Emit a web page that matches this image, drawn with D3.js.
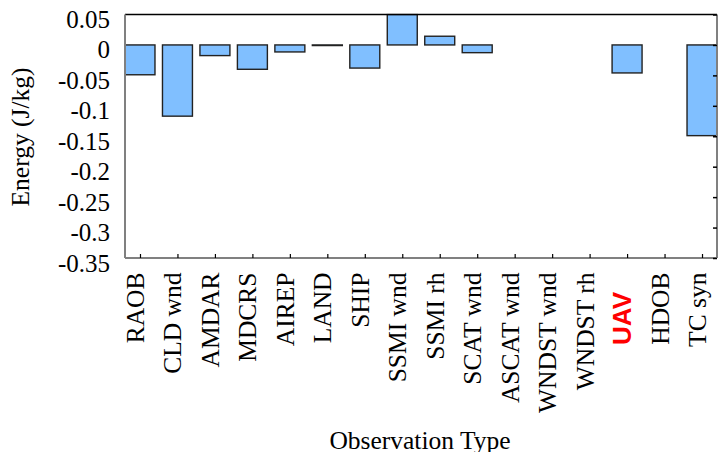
<!DOCTYPE html>
<html>
<head>
<meta charset="utf-8">
<script src="https://cdn.jsdelivr.net/npm/d3@7"></script>
<style>
  body { margin: 0; background: #fff; }
  text { font-family: "Liberation Serif", serif; fill: #000; }
</style>
</head>
<body>
<script>
var categories = ['RAOB', 'CLD wnd', 'AMDAR', 'MDCRS', 'AIREP', 'LAND', 'SHIP', 'SSMI wnd',
  'SSMI rh', 'SCAT wnd', 'ASCAT wnd', 'WNDST wnd', 'WNDST rh', 'UAV', 'HDOB', 'TC syn'];
var values = [-0.049, -0.117, -0.0175, -0.040, -0.0115, -0.001, -0.038, 0.05,
  0.0143, -0.0127, 0, 0, 0, -0.046, 0, -0.149];
var yTicks = [0.05, 0, -0.05, -0.1, -0.15, -0.2, -0.25, -0.3, -0.35];
var highlight = 'UAV';

var width = 720, height = 452;
var plotLeft = 125, plotRight = 717, plotTop = 14.5, plotBottom = 258;

var svg = d3.select('body')
  .append('svg')
  .attr('width', width)
  .attr('height', height);

var x = d3.scaleLinear()
  .domain([-0.4, categories.length - 0.6])
  .range([plotLeft, plotRight]);

var y = d3.scaleLinear()
  .domain([-0.35, 0.05])
  .range([plotBottom, plotTop]);

svg.append('clipPath')
  .attr('id', 'plot')
  .append('rect')
  .attr('x', plotLeft)
  .attr('y', plotTop - 1)
  .attr('width', plotRight - plotLeft)
  .attr('height', plotBottom - plotTop + 1);

var bars = values.map(function(v, i) { return { i: i, v: v }; })
  .filter(function(d) { return d.v !== 0; });

// bars
svg.append('g')
  .attr('clip-path', 'url(#plot)')
  .selectAll('rect')
  .data(bars)
  .enter()
  .append('rect')
  .attr('x', function(d) { return x(d.i - 0.4); })
  .attr('y', function(d) { return y(Math.max(d.v, 0)); })
  .attr('width', x(0.4) - x(-0.4))
  .attr('height', function(d) { return Math.abs(y(d.v) - y(0)); })
  .attr('fill', '#80bfff')
  .attr('stroke', '#222')
  .attr('stroke-width', 1.4);

// frame
svg.append('line').attr('x1', plotLeft).attr('x2', plotRight).attr('y1', plotTop).attr('y2', plotTop)
  .attr('stroke', '#000').attr('stroke-width', 1.5);
svg.append('line').attr('x1', plotLeft).attr('x2', plotLeft).attr('y1', plotTop).attr('y2', plotBottom)
  .attr('stroke', '#808080').attr('stroke-width', 2);
svg.append('line').attr('x1', plotRight).attr('x2', plotRight).attr('y1', plotTop).attr('y2', plotBottom)
  .attr('stroke', '#808080').attr('stroke-width', 2);
svg.append('line').attr('x1', plotLeft).attr('x2', plotRight).attr('y1', plotBottom).attr('y2', plotBottom)
  .attr('stroke', '#808080').attr('stroke-width', 2);

// y axis labels
var yAxis = d3.axisLeft(y)
  .tickValues(yTicks)
  .tickSize(0)
  .tickPadding(15)
  .tickFormat(function(d) { return String(+d.toFixed(2)); });

var gy = svg.append('g')
  .attr('transform', 'translate(' + plotLeft + ',0)')
  .call(yAxis);
gy.select('.domain').remove();
gy.selectAll('text')
  .attr('dy', '0.52em')
  .style('font-family', '"Liberation Serif", serif')
  .style('font-size', '25px');

// mirror ticks on the right
var yRight = d3.axisLeft(y)
  .tickValues(yTicks)
  .tickSize(4)
  .tickFormat('');
var gr = svg.append('g')
  .attr('transform', 'translate(' + plotRight + ',0)')
  .call(yRight);
gr.select('.domain').remove();
gr.selectAll('line').attr('stroke', '#000').attr('stroke-width', 1.5);

// x axis
var xAxis = d3.axisTop(x)
  .tickValues(d3.range(categories.length))
  .tickSize(4)
  .tickFormat('');
var gx = svg.append('g')
  .attr('transform', 'translate(0,' + plotBottom + ')')
  .call(xAxis);
gx.select('.domain').remove();
gx.selectAll('line').attr('stroke', '#000').attr('stroke-width', 1.2);

svg.append('g')
  .selectAll('text')
  .data(categories)
  .enter()
  .append('text')
  .text(function(d) { return d; })
  .attr('text-anchor', 'end')
  .attr('transform', function(d, i) {
    var yEnd = d === highlight ? 292 : 272.5;
    return 'translate(' + (x(i) + 4) + ',' + yEnd + ') rotate(-90)';
  })
  .style('font-family', function(d) {
    return d === highlight ? '"Liberation Sans", sans-serif' : '"Liberation Serif", serif';
  })
  .style('font-weight', function(d) { return d === highlight ? 'bold' : 'normal'; })
  .style('fill', function(d) { return d === highlight ? '#ff0000' : '#000'; })
  .style('font-size', function(d) { return d === highlight ? '26px' : '25.5px'; });

// axis titles
svg.append('text')
  .text('Energy (J/kg)')
  .attr('text-anchor', 'middle')
  .attr('transform', 'translate(29,137) rotate(-90)')
  .style('font-size', '25.5px');

svg.append('text')
  .text('Observation Type')
  .attr('text-anchor', 'middle')
  .attr('x', 420)
  .attr('y', 449)
  .style('font-size', '25.5px');
</script>
</body>
</html>
